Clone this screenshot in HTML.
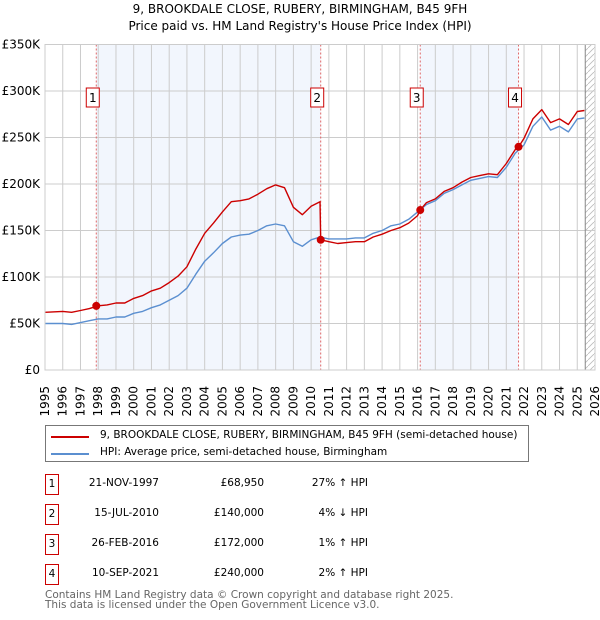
<!DOCTYPE html>
<html><head><meta charset="utf-8"><style>
body{margin:0;background:#fff;font-family:"DejaVu Sans","Liberation Sans",sans-serif;}
#wrap{position:relative;width:600px;height:620px;overflow:hidden;}
.t{position:absolute;font-size:12px;color:#000;white-space:nowrap;}
.s{font-size:10.5px;}
.box{position:absolute;border:1px solid #c00;width:12px;height:19px;font-size:10.5px;text-align:center;line-height:19px;}
</style></head><body><div id="wrap">
<div class="t" style="left:0;width:600px;text-align:center;top:2px">9, BROOKDALE CLOSE, RUBERY, BIRMINGHAM, B45 9FH</div>
<div class="t" style="left:0;width:600px;text-align:center;top:19px">Price paid vs. HM Land Registry's House Price Index (HPI)</div>
<svg id="chart" width="600" height="420" style="position:absolute;left:0;top:0"></svg>
<div style="position:absolute;left:45px;top:425px;width:482px;height:35px;border:1px solid #777;">
<div><div style="position:absolute;left:5px;top:10px;width:38px;height:2px;background:#c00"></div><div class="t s" style="left:54px;top:3px">9, BROOKDALE CLOSE, RUBERY, BIRMINGHAM, B45 9FH (semi-detached house)</div></div>
<div><div style="position:absolute;left:5px;top:27px;width:38px;height:2px;background:#5b8fd0"></div><div class="t s" style="left:54px;top:20px">HPI: Average price, semi-detached house, Birmingham</div></div>
</div>
<div id="tbl"></div>
<div class="t s" style="left:45px;top:589px;color:#666">Contains HM Land Registry data © Crown copyright and database right 2025.</div>
<div class="t s" style="left:45px;top:599px;color:#666">This data is licensed under the Open Government Licence v3.0.</div>
</div>
<script>
const hpiYears=[1995,1996,1996.5,1997,1997.5,1998,1998.5,1999,1999.5,2000,2000.5,2001,2001.5,2002,2002.5,2003,2003.5,2004,2004.5,2005,2005.5,2006,2006.5,2007,2007.5,2008,2008.5,2009,2009.5,2010,2010.5,2011,2011.5,2012,2012.5,2013,2013.5,2014,2014.5,2015,2015.5,2016,2016.5,2017,2017.5,2018,2018.5,2019,2019.5,2020,2020.5,2021,2021.5,2022,2022.5,2023,2023.5,2024,2024.5,2025,2025.4];
const hpiValues=[50,50,49,51,53,55,55,57,57,61,63,67,70,75,80,88,103,117,126,136,143,145,146,150,155,157,155,138,133,140,143,141,141,141,142,142,147,150,155,157,162,170,178,182,190,194,199,204,206,208,207,218,233,242,262,272,258,262,256,270,271];
const propYears=[1995,1996,1996.5,1997,1997.5,1998,1998.5,1999,1999.5,2000,2000.5,2001,2001.5,2002,2002.5,2003,2003.5,2004,2004.5,2005,2005.5,2006,2006.5,2007,2007.5,2008,2008.5,2009,2009.5,2010,2010.5,2010.54,2011,2011.5,2012,2012.5,2013,2013.5,2014,2014.5,2015,2015.5,2016,2016.15,2016.5,2017,2017.5,2018,2018.5,2019,2019.5,2020,2020.5,2021,2021.5,2021.7,2022,2022.5,2023,2023.5,2024,2024.5,2025,2025.4];
const propValues=[62,63,62,64,66,69,70,72,72,77,80,85,88,94,101,111,130,147,158,170,181,182,184,189,195,199,196,175,167,176,181,140,138,136,137,138,138,143,146,150,153,158,166,172,180,184,192,196,202,207,209,211,210,222,237,240,249,270,280,266,270,264,278,279];
const saleLabels=["1","2","3","4"];
const saleYears=[1997.89,2010.54,2016.15,2021.69];
const salePrices=[68950,140000,172000,240000];
const saleDates=["21-NOV-1997","15-JUL-2010","26-FEB-2016","10-SEP-2021"];
const salePriceText=["£68,950","£140,000","£172,000","£240,000"];
const saleHpiText=["27% ↑ HPI","4% ↓ HPI","1% ↑ HPI","2% ↑ HPI"];
const yTicks=[0,50,100,150,200,250,300,350];
const yTickLabels=["£0","£50K","£100K","£150K","£200K","£250K","£300K","£350K"];
const x0=45,x1=595,yT=44.5,yB=370,minY=1995,maxY=2026,hatchStart=2025.45;
const X=y=>x0+(y-minY)/(maxY-minY)*(x1-x0);
const Y=v=>yB-v/350*(yB-yT);
const NS="http://www.w3.org/2000/svg";
const svg=document.getElementById('chart');
function mk(tag,attrs,parent){const e=document.createElementNS(NS,tag);for(const k in attrs)e.setAttribute(k,attrs[k]);(parent||svg).appendChild(e);return e;}
const defs=mk('defs',{});
const pat=mk('pattern',{id:'hatch',width:6,height:6,patternUnits:'userSpaceOnUse'},defs);
mk('path',{d:'M0,6 L6,0',stroke:'#bbb','stroke-width':0.8},pat);
for(let i=0;i<saleYears.length;i+=2){
  const end=i+1<saleYears.length?saleYears[i+1]:hatchStart;
  const r=mk('rect',{x:X(saleYears[i]),y:yT,width:X(end)-X(saleYears[i]),height:yB-yT,fill:'#eef3fc',opacity:0.75});
  
  
}
const h=mk('rect',{x:X(hatchStart),y:yT,width:x1-X(hatchStart),height:yB-yT,fill:'url(#hatch)'});


for(let y=minY;y<=maxY;y++){
  const l=mk('line',{x1:X(y),x2:X(y),y1:yT,y2:yB,stroke:'#ccc','stroke-width':1});
  
  
  const t=mk('text',{x:0,y:0,transform:`translate(${X(y)+4},${386}) rotate(-90)`,'text-anchor':'end','font-size':12,fill:'#000'});
  t.textContent=y;
  
  
}
yTicks.forEach((v,i)=>{
  const l=mk('line',{x1:x0,x2:x1,y1:Y(v),y2:Y(v),stroke:'#ccc','stroke-width':1});
  
  
  const t=mk('text',{x:40,y:Y(v)+4,'text-anchor':'end','font-size':12,fill:'#000'});
  t.textContent=yTickLabels[i];
  
  
});
const hl=mk('line',{x1:X(hatchStart),x2:X(hatchStart),y1:yT,y2:yB,stroke:'#888','stroke-width':1});


saleYears.forEach((s,i)=>{
  const l=mk('line',{x1:X(s),x2:X(s),y1:yT,y2:yB,stroke:'#e06666','stroke-width':1,'stroke-dasharray':'2,2'});
  
  
  const g=mk('g',{});
  
  
  mk('rect',{x:X(s)-10,y:88,width:13,height:19,fill:'#fff',stroke:'#c00','stroke-width':1},g);
  const t=mk('text',{x:X(s)-3.5,y:102,'text-anchor':'middle','font-size':12},g);
  t.textContent=saleLabels[i];
});
function line(xs,vs,color,name){
  const p=mk('path',{d:xs.map((x,i)=>(i?'L':'M')+X(x).toFixed(1)+','+Y(vs[i]).toFixed(1)).join(''),fill:'none',stroke:color,'stroke-width':1.4,'stroke-linejoin':'round'});
  
  
}
line(hpiYears,hpiValues,'#5b8fd0','hpi-line');
line(propYears,propValues,'#cc0000','property-line');
saleYears.forEach((s,i)=>{
  const c=mk('circle',{cx:X(s),cy:Y(salePrices[i]/1000),r:4,fill:'#cc0000'});
  
  
});
mk('rect',{x:x0,y:yT,width:x1-x0,height:yB-yT,fill:'none',stroke:'#ccc'});
const tbl=document.getElementById('tbl');
saleLabels.forEach((lab,i)=>{
  const top=474+i*30;
  const row=document.createElement('div');
  
  
  row.innerHTML=`<div class="box" style="left:45px;top:${top}px">${lab}</div>`+
   `<div class="t s" style="left:40px;width:119px;text-align:right;top:${top+3}px">${saleDates[i]}</div>`+
   `<div class="t s" style="left:164px;width:100px;text-align:right;top:${top+3}px">${salePriceText[i]}</div>`+
   `<div class="t s" style="left:268px;width:100px;text-align:right;top:${top+3}px">${saleHpiText[i]}</div>`;
  tbl.appendChild(row);
});
</script></body></html>
